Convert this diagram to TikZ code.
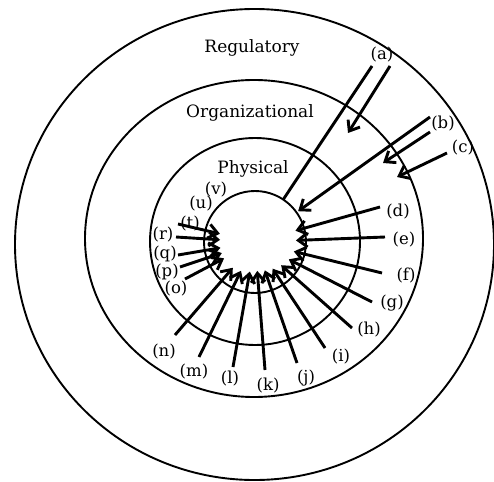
\documentclass[tikz,border=0pt]{standalone}
\usepackage{fontspec}
\setmainfont{DejaVu Serif}
\usetikzlibrary{arrows.meta}
\usetikzlibrary{calc, positioning}

\begin{document}
\begin{tikzpicture}[
    x=1pt, y=-1pt,
    ring/.style={line width=1.9pt},
    ringname/.style={font=\fontsize{17}{19}\selectfont},
    tag/.style={font=\fontsize{16.5}{18}\selectfont, inner sep=0pt},
    feed/.style={line width=2.9pt, -{Straight Barb[length=9pt, width=14pt]}},
    plain/.style={line width=2.9pt}
]
\useasboundingbox (0,0) rectangle (494,481);

% the four levels
\coordinate (core) at (255,242);
\draw[ring] (254.5,244.5) ellipse [x radius=239.5pt, y radius=235.5pt];
\draw[ring] (254,238.5) ellipse [x radius=169pt, y radius=158.5pt];
\draw[ring] (255,241.5) ellipse [x radius=105pt, y radius=103.5pt];
\draw[ring] (core) circle [radius=51pt];

\node[ringname] (reg) at (252,48) {Regulatory};
\node[ringname] (org) at (250,113) {Organizational};
\node[ringname] (phys) at (253,169) {Physical};

% influences from outside
\node[tag] (la) at (382,55) {(a)};
\node[tag] (lb) at (443,124) {(b)};
\node[tag] (lc) at (463,148) {(c)};
\coordinate (sa1) at (372,66);
\coordinate (sa2) at (390,66);
\coordinate (ta2) at (348,133);
\coordinate (sb1) at (430,117);
\coordinate (sb2) at (430,132);
\coordinate (tb2) at (383,163);
\coordinate (sc) at (447,153);
\coordinate (tc) at (397,177);
\draw[plain] (sa1) -- ($(core)!51pt!(sa1)$);
\draw[feed] (sa2) -- (ta2);
\draw[feed] (sb1) -- ($(core)!53pt!(sb1)$);
\draw[feed] (sb2) -- (tb2);
\draw[feed] (sc) -- (tc);

% influences into the core
\foreach \l/\lx/\ly/\sx/\sy/\r in {
    d/398/212/380/207/42, e/404/240/385/237/41, f/406/276/382/273/40,
    g/392/303/372/302/38, h/369/330/352/328/35, i/341/357/325/348/32,
    j/306/378/297/363/30, k/268/386/265/370/29, l/230/379/233/367/30,
    m/194/372/199/357/32, n/164/352/175/335/34, o/176/289/185/279/35,
    p/167/272/180/267/35, q/165/254/178/255/35, r/163/235/176/237/35,
    t/190/224/178/224/36} {
  \node[tag] (l\l) at (\lx,\ly) {(\l)};
  \coordinate (s\l) at (\sx,\sy);
  \draw[feed] (s\l) -- ($(core)!\r pt!(s\l)$);
}
\node[tag] (lu) at (201,204) {(u)};
\node[tag] (lv) at (216,190) {(v)};

\end{tikzpicture}
\end{document}
